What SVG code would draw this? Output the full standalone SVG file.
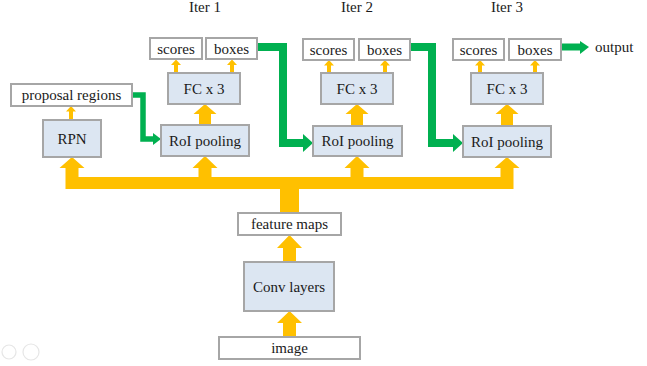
<svg xmlns="http://www.w3.org/2000/svg" width="647" height="366" viewBox="0 0 647 366">
<style>
.n{fill:#dce6f2;stroke:#a6a6a6;stroke-width:2}
.w{fill:#ffffff;stroke:#a6a6a6;stroke-width:2}
.t{font-family:"Liberation Serif","Times New Roman",serif;font-size:15px;fill:#1a1a1a;text-anchor:middle}
.y{fill:#ffc000}
.g{fill:none;stroke:#00b050;stroke-linejoin:miter}
.gh{fill:#00b050}
</style>
<rect width="647" height="366" fill="#ffffff"/>
<g id="labels">
<text class="t" x="205" y="12">Iter 1</text>
<text class="t" x="357" y="12">Iter 2</text>
<text class="t" x="507" y="12">Iter 3</text>
</g>
<g id="connectors">
<!-- bus -->
<rect class="y" x="65.5" y="177" width="448" height="12"/>
<rect class="y" x="280" y="188" width="19" height="25"/>
<polygon class="y" points="65.5,177 65.5,168 59.5,168 72,157 84.5,168 78.5,168 78.5,177"/>
<polygon class="y" points="198.5,177 198.5,168 192.5,168 205,156 217.5,168 211.5,168 211.5,177"/>
<polygon class="y" points="350.5,177 350.5,168 344.5,168 357,156 369.5,168 363.5,168 363.5,177"/>
<polygon class="y" points="500.5,177 500.5,168 494.5,168 507,157 519.5,168 513.5,168 513.5,177"/>
<!-- conv to feature, image to conv -->
<polygon class="y" points="283,262 283,248 277,248 289.5,235 302,248 296,248 296,262"/>
<polygon class="y" points="283,337 283,323 277,323 289.5,311 302,323 296,323 296,337"/>
<!-- RoI to FC -->
<polygon class="y" points="199,125 199,114 193.5,114 205,104 216.5,114 211,114 211,125"/>
<polygon class="y" points="351,126 351,114 345.5,114 357,104 368.5,114 363,114 363,126"/>
<polygon class="y" points="501,126 501,114 495.5,114 507,104 518.5,114 513,114 513,126"/>
<!-- small arrows -->
<polygon class="y" points="69,120 69,111.5 66,111.5 71,106 76,111.5 73,111.5 73,120"/>
<polygon class="y" points="174,73 174,65 171,65 176,59.5 181,65 178,65 178,73"/>
<polygon class="y" points="230,73 230,65 227,65 232,59.5 237,65 234,65 234,73"/>
<polygon class="y" points="327,73 327,65.5 324,65.5 329,60 334,65.5 331,65.5 331,73"/>
<polygon class="y" points="383,73 383,65.5 380,65.5 385,60 390,65.5 387,65.5 387,73"/>
<polygon class="y" points="478,73 478,65.5 475,65.5 480,60 485,65.5 482,65.5 482,73"/>
<polygon class="y" points="533,73 533,65.5 530,65.5 535,60 540,65.5 537,65.5 537,73"/>
<!-- green -->
<path class="g" stroke-width="5.5" d="M132,95 H143 V139 H154"/>
<polygon class="gh" points="153,133 161,139 153,145"/>
<path class="g" stroke-width="8" d="M257,47 H283 V143 H304"/>
<polygon class="gh" points="303,134 313,143 303,152"/>
<path class="g" stroke-width="8" d="M410,47 H432 V143 H454"/>
<polygon class="gh" points="453,134 463,143 453,152"/>
<path class="g" stroke-width="7" d="M561,47 H581"/>
<polygon class="gh" points="580,41 589,47 580,54"/>
</g>
<g id="rpn"><rect class="n" x="43" y="120" width="58" height="37"/><text class="t" x="72" y="143.5">RPN</text></g>
<g id="proposal"><rect class="w" x="11" y="84" width="121" height="22"/><text class="t" x="71.5" y="100">proposal regions</text></g>
<g id="roi1"><rect class="n" x="161" y="125" width="88" height="31"/><text class="t" x="205" y="145.5">RoI pooling</text></g>
<g id="fc1"><rect class="n" x="168" y="73" width="72" height="31"/><text class="t" x="204" y="93.5">FC x 3</text></g>
<g id="scores1"><rect class="w" x="150" y="38" width="52" height="21"/><text class="t" x="176" y="53.5">scores</text></g>
<g id="boxes1"><rect class="w" x="206" y="38" width="51" height="21"/><text class="t" x="231.5" y="53.5">boxes</text></g>
<g id="roi2"><rect class="n" x="313" y="126" width="89" height="30"/><text class="t" x="357.5" y="146">RoI pooling</text></g>
<g id="fc2"><rect class="n" x="321" y="73" width="72" height="31"/><text class="t" x="357" y="93.5">FC x 3</text></g>
<g id="scores2"><rect class="w" x="303" y="39" width="51" height="21"/><text class="t" x="328.5" y="54.5">scores</text></g>
<g id="boxes2"><rect class="w" x="359" y="39" width="51" height="21"/><text class="t" x="384.5" y="54.5">boxes</text></g>
<g id="roi3"><rect class="n" x="463" y="126" width="88" height="31"/><text class="t" x="507" y="146.5">RoI pooling</text></g>
<g id="fc3"><rect class="n" x="471" y="73" width="72" height="31"/><text class="t" x="507" y="93.5">FC x 3</text></g>
<g id="scores3"><rect class="w" x="453" y="39" width="51" height="21"/><text class="t" x="478.5" y="54.5">scores</text></g>
<g id="boxes3"><rect class="w" x="509" y="39" width="52" height="21"/><text class="t" x="535" y="54.5">boxes</text></g>
<g id="output"><text class="t" x="595" y="52" style="text-anchor:start">output</text></g>
<g id="featuremaps"><rect class="w" x="238" y="213" width="103" height="22"/><text class="t" x="289.5" y="229">feature maps</text></g>
<g id="conv"><rect class="n" x="244" y="262" width="90" height="49"/><text class="t" x="289" y="291.5">Conv layers</text></g>
<g id="image"><rect class="w" x="219" y="337" width="141" height="22"/><text class="t" x="289.5" y="353">image</text></g>
<g id="ui" fill="none" stroke="#e6e6e6" stroke-width="1.2">
<circle cx="31" cy="352" r="8"/>
<circle cx="9" cy="352" r="7"/>
</g>
</svg>
